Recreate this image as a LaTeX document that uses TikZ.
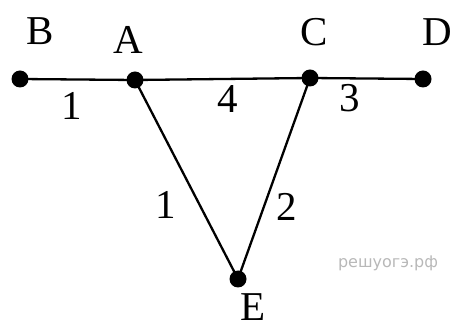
\documentclass[tikz,border=0pt]{standalone}
\usepackage{fontspec}
\setmainfont{Liberation Serif}
\setsansfont{DejaVu Sans}
\begin{document}
\begin{tikzpicture}[x=1pt,y=-1pt,
  dot/.style={circle,fill=black,inner sep=0pt,minimum size=17pt},
  lbl/.style={font=\fontsize{41}{41}\selectfont,inner sep=0pt},
  edge/.style={line width=2.3pt}]
\useasboundingbox (0,0) rectangle (460,328);
\node[dot] (B) at (20,79) {};
\node[dot] (A) at (135,80) {};
\node[dot] (C) at (310,78) {};
\node[dot] (D) at (423,79) {};
\node[dot] (E) at (238,279) {};
\draw[edge] (B.center) -- (A.center) -- (C.center) -- (D.center);
\draw[edge] (A.center) -- (E.center) -- (C.center);
\node[lbl] (lB) at (40,31) {B};
\node[lbl] (lA) at (128,40) {A};
\node[lbl] (lC) at (314,32) {C};
\node[lbl] (lD) at (437,32) {D};
\node[lbl] (lE) at (253,307) {E};
\node[lbl] (wBA) at (72,106) {1};
\node[lbl] (wAC) at (228,99) {4};
\node[lbl] (wCD) at (350,98) {3};
\node[lbl] (wAE) at (166,205) {1};
\node[lbl] (wCE) at (287,207) {2};
\node[font=\sffamily\fontsize{16}{16}\selectfont,text=black!28,inner sep=0pt] (wm) at (388,263) {решуогэ.рф};
\end{tikzpicture}
\end{document}
